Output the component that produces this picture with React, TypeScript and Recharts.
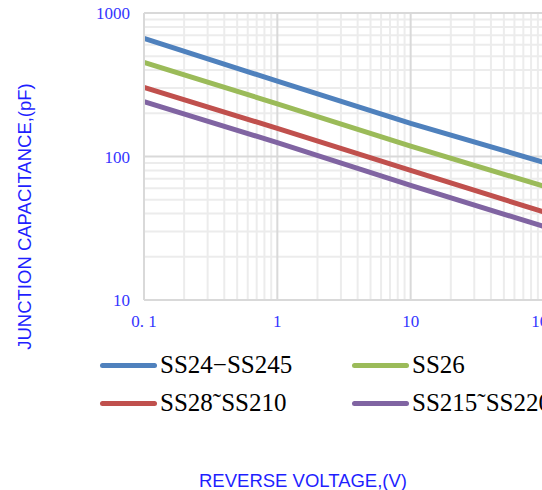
import React from 'react';
import {
  LineChart,
  Line,
  XAxis,
  YAxis,
  CartesianGrid,
  Label
} from 'recharts';

// values (pF at each reverse voltage)
const voltages = [0.1, 1, 10, 100];
const ss24 = [665, 335, 170, 91];
const ss26 = [452, 233, 118, 62];
const ss28 = [303, 157, 80, 41];
const ss215 = [241, 125, 63, 32.5];

const xTicks = [0.1, 1, 10, 100];
const yTicks = [10, 100, 1000];
const xMinor = [0.2, 0.3, 0.4, 0.5, 0.6, 0.7, 0.8, 0.9, 2, 3, 4, 5, 6, 7, 8, 9, 20, 30, 40, 50, 60, 70, 80, 90];
const yMinor = [20, 30, 40, 50, 60, 70, 80, 90, 200, 300, 400, 500, 600, 700, 800, 900];
const xMajor = [1, 10, 100];
const yMajor = [100, 1000];

const series = [
  { key: 'ss24', name: 'SS24−SS245', color: '#4f81bd', values: ss24 },
  { key: 'ss26', name: 'SS26', color: '#9bbb59', values: ss26 },
  { key: 'ss28', name: 'SS28˜SS210', color: '#c0504d', values: ss28 },
  { key: 'ss215', name: 'SS215˜SS220', color: '#8064a2', values: ss215 }
];

const data = voltages.map((v, i) => {
  const row: any = { v };
  series.forEach(s => { row[s.key] = s.values[i]; });
  return row;
});

const tickBlue = '#3535ff';
const titleBlue = '#1f1fff';
const tickStyle = { fill: tickBlue, fontFamily: '"Liberation Serif", serif', fontSize: 17 };

const App: React.FC = () => {
  return (
    <div style={{ position: 'absolute', left: 0, top: 0, width: 542, height: 490, overflow: 'hidden', background: '#fff' }}>
      <LineChart
        width={600}
        height={490}
        data={data}
        margin={{ top: 13, right: 56, left: 0, bottom: 150 }}
      >
        <CartesianGrid
          stroke="#ececec"
          strokeWidth={2}
          verticalValues={xMinor}
          horizontalValues={yMinor}
        />
        <CartesianGrid
          stroke="#d9d9d9"
          strokeWidth={2}
          verticalValues={xMajor}
          horizontalValues={yMajor}
        />
        <XAxis
          dataKey="v"
          type="number"
          scale="log"
          domain={[0.1, 100]}
          ticks={xTicks}
          allowDataOverflow
          height={40}
          tickSize={0}
          tickMargin={15}
          tick={tickStyle}
          axisLine={{ stroke: '#d9d9d9', strokeWidth: 2 }}
          tickFormatter={(v) => (v === 0.1 ? '0. 1' : String(v))}
          interval={0}
        >
          <Label
            content={({ viewBox }: any) => (
              <text
                x={viewBox.x + viewBox.width / 2 - 41}
                y={viewBox.y + 180}
                textAnchor="middle"
                dominantBaseline="central"
                fill={titleBlue}
                fontFamily='"Liberation Sans", Arial, sans-serif'
                fontSize={18.5}
              >
                REVERSE VOLTAGE,(V)
              </text>
            )}
          />
        </XAxis>
        <YAxis
          type="number"
          scale="log"
          domain={[10, 1000]}
          ticks={yTicks}
          allowDataOverflow
          width={144}
          tickSize={0}
          tickMargin={14}
          tick={tickStyle}
          axisLine={{ stroke: '#d9d9d9', strokeWidth: 2 }}
          interval={0}
        >
          <Label
            content={({ viewBox }: any) => {
              const cx = 24;
              const cy = viewBox.y + viewBox.height / 2 + 60;
              return (
                <text
                  x={cx}
                  y={cy}
                  transform={`rotate(-90 ${cx} ${cy})`}
                  textAnchor="middle"
                  dominantBaseline="central"
                  fill={titleBlue}
                  fontFamily='"Liberation Sans", Arial, sans-serif'
                  fontSize={18.5}
                >
                  JUNCTION CAPACITANCE,(pF)
                </text>
              );
            }}
          />
        </YAxis>
        {series.map(s => (
          <Line
            key={s.key}
            type="linear"
            dataKey={s.key}
            name={s.name}
            stroke={s.color}
            strokeWidth={5}
            dot={false}
            activeDot={false}
            isAnimationActive={false}
          />
        ))}
      </LineChart>

      {/* legend, two columns */}
      {series.map((s, i) => (
        <div
          key={s.key}
          style={{
            position: 'absolute',
            left: i % 2 === 0 ? 100 : 352,
            top: i < 2 ? 350 : 388,
            height: 30,
            display: 'flex',
            alignItems: 'center',
            whiteSpace: 'nowrap'
          }}
        >
          <span style={{ display: 'inline-block', width: 57, height: 5, borderRadius: 3, background: s.color }} />
          <span style={{ marginLeft: 3, fontFamily: '"Liberation Serif", serif', fontSize: 25, color: '#000', lineHeight: '30px' }}>
            {s.name}
          </span>
        </div>
      ))}
    </div>
  );
};

export default App;
